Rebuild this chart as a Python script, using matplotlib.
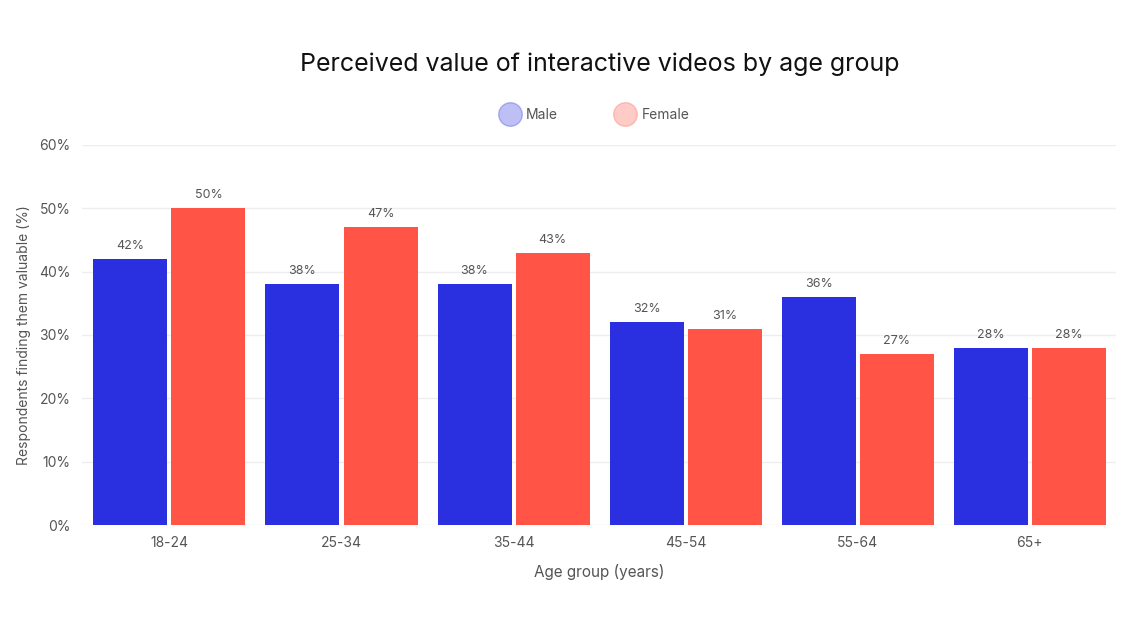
import matplotlib.pyplot as plt
from matplotlib.lines import Line2D
import numpy as np

plt.rcParams['font.family'] = ['Inter', 'DejaVu Sans']

age_groups = ['18-24', '25-34', '35-44', '45-54', '55-64', '65+']
series_names = ['Male', 'Female']
male = [42, 38, 38, 32, 36, 28]
female = [50, 47, 43, 31, 27, 28]
y_ticks = [0, 10, 20, 30, 40, 50, 60]

blue = '#2a30e0'
red = '#ff5446'

fig = plt.figure(figsize=(11.34, 6.38), dpi=100)
ax = fig.add_axes([0.072, 0.177, 0.912, 0.596])

x = np.arange(len(age_groups))
w = 0.43
b1 = ax.bar(x - w / 2 - 0.012, male, w, color=blue, label=series_names[0], zorder=3)
b2 = ax.bar(x + w / 2 + 0.012, female, w, color=red, label=series_names[1], zorder=3)

for bars in (b1, b2):
    for r in bars:
        ax.annotate(f'{r.get_height():.0f}%', (r.get_x() + r.get_width() / 2, r.get_height()),
                    xytext=(0, 5), textcoords='offset points', ha='center', va='bottom',
                    fontsize=9, color='#555555')

ax.set_xlim(-0.51, 5.5)
ax.set_ylim(0, 60)
ax.set_yticks(y_ticks)
ax.set_yticklabels([f'{t}%' for t in y_ticks])
ax.set_xticks(x)
ax.set_xticklabels(age_groups)
ax.tick_params(axis='both', length=0, labelsize=10, colors='#555555', pad=8)
ax.grid(axis='y', color='#eeeeee', linewidth=1, zorder=0)
for s in ax.spines.values():
    s.set_visible(False)

ax.set_xlabel('Age group (years)', fontsize=11, color='#555555', labelpad=10)
ax.set_ylabel('Respondents finding them valuable (%)', fontsize=10, color='#555555', labelpad=6)

fig.text(0.529, 0.9, 'Perceived value of interactive videos by age group',
         ha='center', va='center', fontsize=18, color='#111111')

handles = [Line2D([], [], linestyle='none', marker='o', markersize=17, color=c, alpha=0.3)
           for c in (blue, red)]
fig.legend(handles=handles, labels=series_names, loc='center', bbox_to_anchor=(0.525, 0.82),
           ncol=2, frameon=False, fontsize=10, labelcolor='#555555', handlelength=1.2,
           handletextpad=0.6, columnspacing=4.2)

fig.savefig('out.png', dpi=100)
